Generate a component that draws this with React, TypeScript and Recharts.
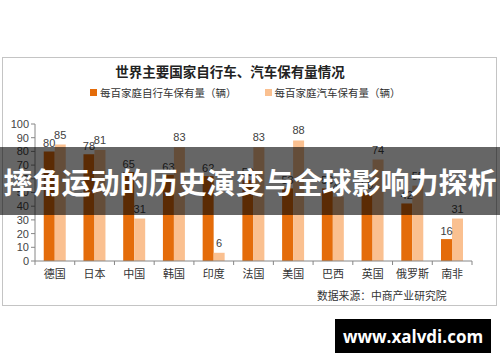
import React from 'react';
import { BarChart, Bar, XAxis, YAxis, LabelList, Legend } from 'recharts';

const countries = ['德国', '日本', '中国', '韩国', '印度', '法国', '美国', '巴西', '英国', '俄罗斯', '南非'];
const bicycles = [80, 78, 65, 63, 62, 59, 53, 53, 50, 42, 16];
const cars = [85, 81, 31, 83, 6, 83, 88, 47, 74, 55, 31];
const yTicks = [0, 10, 20, 30, 40, 50, 60, 70, 80, 90, 100];
const seriesNames = ['每百家庭自行车保有量（辆）', '每百家庭汽车保有量（辆）'];
const chartTitle = '世界主要国家自行车、汽车保有量情况';
const sourceText = '数据来源：中商产业研究院';
const bannerText = '摔角运动的历史演变与全球影响力探析';
const siteText = 'www.xalvdi.com';

const data = countries.map((c, i) => ({ name: c, bike: bicycles[i], car: cars[i] }));

const BIKE = '#E46C0A';
const CAR = '#FAC090';
const FONT = '"Liberation Sans", "Noto Sans CJK SC", sans-serif';

const CatTick = (props: any) => {
  const { x, y, payload, index } = props;
  const off = payload.offset || 0;
  const last = index === countries.length - 1;
  return (
    <g>
      <line x1={x - off} y1={y - 8} x2={x - off} y2={y - 4} stroke="#868686" />
      {last && <line x1={x + off} y1={y - 8} x2={x + off} y2={y - 4} stroke="#868686" />}
      <text x={x} y={y + 9} textAnchor="middle" fontSize={11} fill="#333" fontFamily={FONT}>
        {payload.value}
      </text>
    </g>
  );
};

const LegendContent = () => (
  <div style={{ display: 'flex', justifyContent: 'flex-start', fontFamily: FONT, fontSize: 10.5, color: '#333' }}>
    <div style={{ display: 'flex', alignItems: 'center', marginLeft: 90 }}>
      <span style={{ width: 7, height: 7, background: BIKE, display: 'inline-block', marginRight: 3 }} />
      <span>{seriesNames[0]}</span>
    </div>
    <div style={{ display: 'flex', alignItems: 'center', marginLeft: 28 }}>
      <span style={{ width: 7, height: 7, background: CAR, display: 'inline-block', marginRight: 3 }} />
      <span>{seriesNames[1]}</span>
    </div>
  </div>
);

export default function App() {
  return (
    <div style={{ position: 'absolute', left: 0, top: 0, width: 500, height: 362, background: '#fff', overflow: 'hidden' }}>
      <div style={{ position: 'absolute', left: 2, top: 57, width: 493, height: 247, border: '1px solid #c4c4c4' }} />
      <div style={{ position: 'absolute', left: 0, top: 61, width: 460, textAlign: 'center', fontFamily: '"Noto Sans CJK SC", sans-serif', fontWeight: 700, fontSize: 13.5, color: '#222' }}>
        {chartTitle}
      </div>
      <div style={{ position: 'absolute', left: 0, top: 0 }}>
        <BarChart
          width={500}
          height={362}
          data={data}
          margin={{ top: 109, right: 28, bottom: 71, left: 5 }}
          barCategoryGap="22%"
          barGap={0}
        >
          <Legend
            verticalAlign="top"
            align="left"
            content={<LegendContent />}
            wrapperStyle={{ position: 'absolute', top: 85, left: 0, width: 500 }}
          />
          <YAxis
            domain={[0, 100]}
            ticks={yTicks}
            width={30}
            tickSize={4}
            tickMargin={2}
            axisLine={{ stroke: '#868686' }}
            tickLine={{ stroke: '#868686' }}
            tick={{ fontSize: 11, fill: '#444', fontFamily: FONT }}
            interval={0}
          />
          <XAxis
            dataKey="name"
            axisLine={{ stroke: '#868686' }}
            tickLine={false}
            tick={<CatTick />}
            interval={0}
            height={30}
          />
          <Bar dataKey="bike" fill={BIKE} isAnimationActive={false}>
            <LabelList dataKey="bike" position="top" fill="#404040" fontSize={11} fontFamily={FONT} offset={4} />
          </Bar>
          <Bar dataKey="car" fill={CAR} isAnimationActive={false}>
            <LabelList dataKey="car" position="top" fill="#404040" fontSize={11} fontFamily={FONT} offset={6} />
          </Bar>
        </BarChart>
      </div>
      <div style={{ position: 'absolute', left: 317, top: 287, fontFamily: '"Noto Sans CJK SC", sans-serif', fontSize: 10.8, color: '#333' }}>
        {sourceText}
      </div>
      <div style={{ position: 'absolute', left: 0, top: 147, width: 500, height: 68, background: 'rgba(0,0,0,0.6)', display: 'flex', alignItems: 'center', justifyContent: 'center' }}>
        <span style={{ fontFamily: '"Noto Sans CJK SC", sans-serif', fontWeight: 700, fontSize: 29, color: '#fff', whiteSpace: 'nowrap' }}>
          {bannerText}
        </span>
      </div>
      <div style={{ position: 'absolute', left: 335, top: 319, width: 156, height: 34, background: '#000', display: 'flex', alignItems: 'center', justifyContent: 'center' }}>
        <span style={{ fontFamily: '"Open Sans", sans-serif', fontWeight: 700, fontSize: 17, color: '#fff' }}>{siteText}</span>
      </div>
    </div>
  );
}
